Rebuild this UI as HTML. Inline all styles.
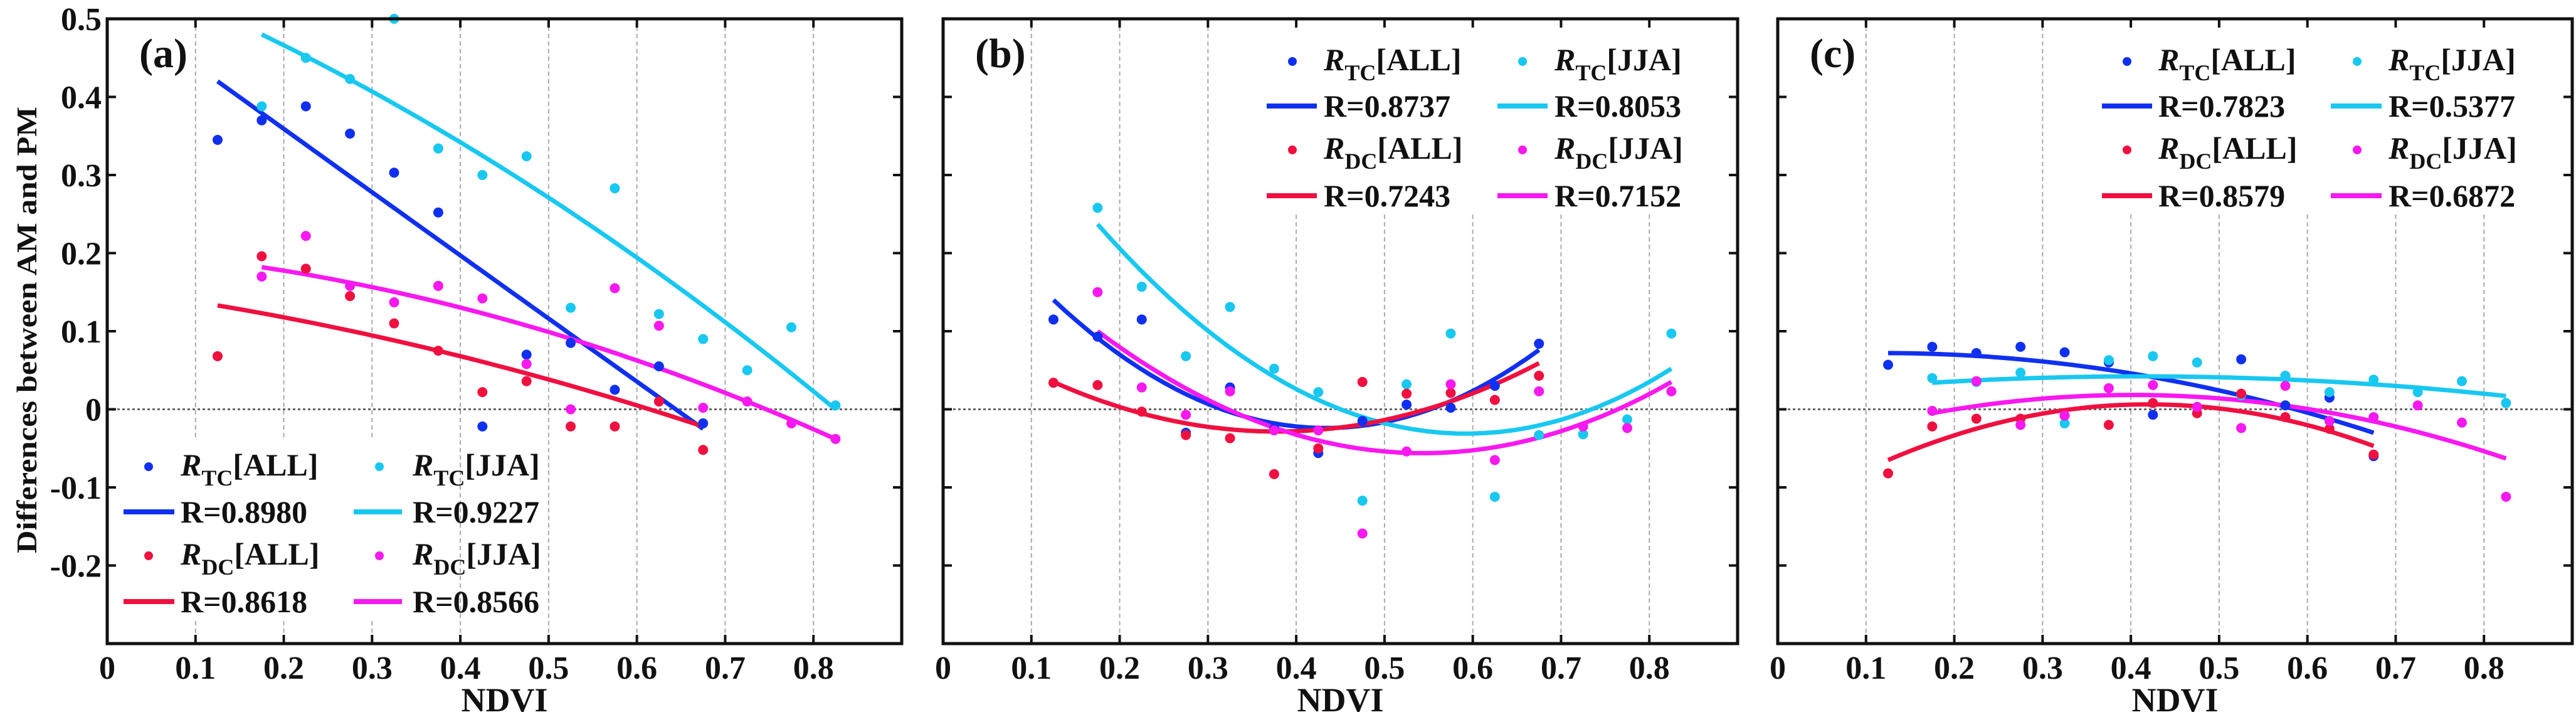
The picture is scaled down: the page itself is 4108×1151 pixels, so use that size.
<!DOCTYPE html>
<html><head><meta charset="utf-8"><style>
html,body{margin:0;padding:0;background:#fff;}
svg{display:block;font-family:"Liberation Serif",serif;font-weight:bold;}
</style></head><body>
<svg id="fig" width="4108" height="1151" viewBox="0 0 4108 1151" xmlns="http://www.w3.org/2000/svg"></svg>
<script>
// ---- data ----
const xBins = [0.125,0.175,0.225,0.275,0.325,0.375,0.425,0.475,0.525,0.575,0.625,0.675,0.725,0.775,0.825];
const xTicks = [0,0.1,0.2,0.3,0.4,0.5,0.6,0.7,0.8];
const yTicks = [0.5,0.4,0.3,0.2,0.1,0,-0.1,-0.2];
const yTickLabels = ["0.5","0.4","0.3","0.2","0.1","0","-0.1","-0.2"];
const panelLabels = ["(a)","(b)","(c)"];
const seriesNames = ["TC|ALL","TC|JJA","DC|ALL","DC|JJA"];
const seriesColors = ["#1030f0","#18c8f0","#f01040","#f818f0"];

const aTcAll = [0.345,0.37,0.388,0.353,0.303,0.252,-0.022,0.07,0.085,0.025,0.055,-0.018,null,null,null];
const aTcJja = [null,0.388,0.45,0.423,0.5,0.334,0.30,0.324,0.13,0.283,0.122,0.09,0.05,0.105,0.005];
const aDcAll = [0.068,0.196,0.18,0.145,0.11,0.075,0.022,0.036,-0.022,-0.022,0.01,-0.052,null,null,null];
const aDcJja = [null,0.17,0.222,0.158,0.137,0.158,0.142,0.058,0.0,0.155,0.107,0.002,0.01,-0.018,-0.038];

const bTcAll = [0.115,0.093,0.115,-0.03,0.028,-0.025,-0.056,-0.015,0.006,0.002,0.03,0.084,null,null,null];
const bTcJja = [null,0.258,0.157,0.068,0.131,0.052,0.022,-0.117,0.032,0.097,-0.112,-0.033,-0.032,-0.013,0.097];
const bDcAll = [0.034,0.031,-0.003,-0.033,-0.037,-0.083,-0.05,0.035,0.02,0.021,0.012,0.043,null,null,null];
const bDcJja = [null,0.15,0.028,-0.007,0.023,-0.027,-0.027,-0.159,-0.054,0.032,-0.065,0.023,-0.022,-0.024,0.023];

const cTcAll = [0.057,0.08,0.072,0.08,0.073,0.06,-0.007,0.003,0.064,0.005,0.015,-0.06,null,null,null];
const cTcJja = [null,0.04,0.035,0.047,-0.018,0.063,0.068,0.06,0.018,0.043,0.022,0.038,0.022,0.036,0.008];
const cDcAll = [-0.082,-0.022,-0.012,-0.012,-0.008,-0.02,0.008,-0.005,0.02,-0.01,-0.025,-0.058,null,null,null];
const cDcJja = [null,-0.002,0.036,-0.02,-0.008,0.027,0.031,0.003,-0.024,0.03,-0.015,-0.01,0.005,-0.017,-0.112];

// fitted curve values at [start, middle, end] of each series' NDVI range
const aFits = [[0.42,0.197,-0.025],[0.48,0.271,0.0],[0.133,0.068,-0.022],[0.182,0.099,-0.038]];
const bFits = [[0.14,-0.022,0.076],[0.237,-0.018,0.052],[0.035,-0.028,0.059],[0.10,-0.054,0.035]];
const cFits = [[0.072,0.046,-0.03],[0.034,0.041,0.017],[-0.065,0.006,-0.047],[-0.005,0.014,-0.063]];

const aR = ["R=0.8980","R=0.9227","R=0.8618","R=0.8566"];
const bR = ["R=0.8737","R=0.8053","R=0.7243","R=0.7152"];
const cR = ["R=0.7823","R=0.5377","R=0.8579","R=0.6872"];

// ---- layout ----
const NS="http://www.w3.org/2000/svg";
const svg=document.getElementById('fig');
function mk(tag,attrs,parent){const e=document.createElementNS(NS,tag);for(const k in attrs)e.setAttribute(k,attrs[k]);(parent||svg).appendChild(e);return e;}
const panelLeft=[171,1504,2835], PW=1267, TOP=30, BOT=1026;
const X_MAX=0.9, Y_MAX=0.5, Y_MIN=-0.3;
const legendPos=[
 {box:[180,700,520,285],rows:[744,816,886,959],c1:[197,278,237,288],c2:[564,641,605,658]},
 {box:[2005,40,760,300],rows:[98,169,239,312],c1:[2020,2100,2061,2111],c2:[2388,2468,2428,2479]},
 {box:[3340,40,760,300],rows:[98,169,239,312],c1:[3352,3432,3392,3442],c2:[3717,3798,3759,3809]}];
const panels=[
 {series:[aTcAll,aTcJja,aDcAll,aDcJja],fits:aFits,rs:aR},
 {series:[bTcAll,bTcJja,bDcAll,bDcJja],fits:bFits,rs:bR},
 {series:[cTcAll,cTcJja,cDcAll,cDcJja],fits:cFits,rs:cR}];

panels.forEach((p,pi)=>{
  const L=panelLeft[pi];
  const sx=v=>L+v/X_MAX*PW;
  const sy=v=>TOP+(Y_MAX-v)/(Y_MAX-Y_MIN)*(BOT-TOP);
  const g=mk('g',{});
  
  
  // grid
  xTicks.slice(1).forEach(t=>{
    const l=mk('line',{x1:sx(t),x2:sx(t),y1:TOP,y2:BOT,stroke:'#aaa','stroke-width':2,'stroke-dasharray':'7,5'},g);
    
    
  });
  // legend background
  const lp=legendPos[pi];
  mk('rect',{x:lp.box[0],y:lp.box[1],width:lp.box[2],height:lp.box[3],fill:'#fff'},g);
  const z=mk('line',{x1:L,x2:L+PW,y1:sy(0),y2:sy(0),stroke:'#666','stroke-width':3,'stroke-dasharray':'4,4'},g);
  
  
  // ticks
  yTicks.forEach(t=>{
    mk('line',{x1:L,x2:L+14,y1:sy(t),y2:sy(t),stroke:'#111','stroke-width':4},g);
    mk('line',{x1:L+PW-14,x2:L+PW,y1:sy(t),y2:sy(t),stroke:'#111','stroke-width':4},g);
  });
  xTicks.forEach(t=>{
    mk('line',{x1:sx(t),x2:sx(t),y1:TOP,y2:TOP+14,stroke:'#111','stroke-width':4},g);
    mk('line',{x1:sx(t),x2:sx(t),y1:BOT-14,y2:BOT,stroke:'#111','stroke-width':4},g);
    const tl=mk('text',{x:sx(t),y:1082,'font-size':52,'text-anchor':'middle',fill:'#111'},g);
    tl.textContent=String(t);
    
    
  });
  if(pi===0){
    yTicks.forEach((t,i)=>{
      const tl=mk('text',{x:162,y:sy(t)+18,'font-size':52,'text-anchor':'end',fill:'#111'},g);
      tl.textContent=yTickLabels[i];
      
      
    });
  }
  const xl=mk('text',{x:L+PW/2,y:1134,'font-size':54,'text-anchor':'middle',fill:'#111'},g);
  xl.textContent='NDVI';
  
  
  const pl=mk('text',{x:L+51,y:107,'font-size':66,fill:'#111'},g);
  pl.textContent=panelLabels[pi];
  
  
  // fits
  p.series.forEach((vals,si)=>{
    const xs=xBins.filter((x,i)=>vals[i]!==null);
    const x0=xs[0],x2=xs[xs.length-1],x1=(x0+x2)/2;
    const f=p.fits[si];
    const q=x=>{ // Lagrange quadratic through three fitted values
      return f[0]*(x-x1)*(x-x2)/((x0-x1)*(x0-x2))+f[1]*(x-x0)*(x-x2)/((x1-x0)*(x1-x2))+f[2]*(x-x0)*(x-x1)/((x2-x0)*(x2-x1));
    };
    let d='';
    for(let k=0;k<=40;k++){const x=x0+(x2-x0)*k/40;d+=(k?'L':'M')+sx(x).toFixed(1)+','+sy(q(x)).toFixed(1);}
    const path=mk('path',{d:d,fill:'none',stroke:seriesColors[si],'stroke-width':7},g);
    
    
  });
  // points
  p.series.forEach((vals,si)=>{
    vals.forEach((v,i)=>{
      if(v===null)return;
      const c=mk('circle',{cx:sx(xBins[i]),cy:sy(v),r:8,fill:seriesColors[si]},g);
      
      
    });
  });
  // axes box
  const ax=mk('rect',{x:L,y:TOP,width:PW,height:BOT-TOP,fill:'none',stroke:'#111','stroke-width':5},g);
  
  
  // legend
  const leg=mk('g',{},g);
  
  
  [0,1,2,3].forEach(si=>{
    const col=(si%2===0)?lp.c1:lp.c2;
    const r0=lp.rows[(si<2)?0:2], r1=lp.rows[(si<2)?1:3];
    const m=mk('circle',{cx:col[2],cy:r0,r:7,fill:seriesColors[si]},leg);
    
    
    const parts=seriesNames[si].split('|');
    const t=mk('text',{x:col[3],y:r0+14,'font-size':50,fill:'#111'},leg);
    
    
    const t1=mk('tspan',{'font-style':'italic'},t);t1.textContent='R';
    const t2=mk('tspan',{'font-size':36,dy:16},t);t2.textContent=parts[0];
    const t3=mk('tspan',{dy:-16},t);t3.textContent='['+parts[1]+']';
    const ln=mk('line',{x1:col[0],x2:col[1],y1:r1,y2:r1,stroke:seriesColors[si],'stroke-width':8},leg);
    
    
    const rt=mk('text',{x:col[3],y:r1+17,'font-size':50,fill:'#111'},leg);
    rt.textContent=p.rs[si];
    
    
  });
});
const yt=mk('text',{x:0,y:0,'font-size':46,'text-anchor':'middle',fill:'#111',transform:'translate(58,526) rotate(-90)',textLength:712,lengthAdjust:'spacingAndGlyphs'});
yt.textContent='Differences between AM and PM';


</script>
</body></html>
